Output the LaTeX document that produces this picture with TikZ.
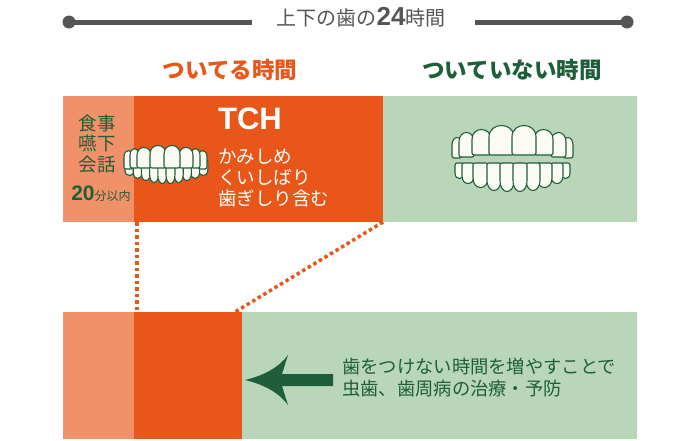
\documentclass[tikz,border=0pt]{standalone}
\usepackage{fontspec}
\setmainfont{Noto Sans CJK JP}
\newfontfamily\latinfont{Liberation Sans}
\usepackage{xcolor}
\usepackage{tikz}
\usetikzlibrary{positioning}

\definecolor{mealorange}{HTML}{F0916A}
\definecolor{tchorange}{HTML}{E8561A}
\definecolor{restgreen}{HTML}{B9D6B9}
\definecolor{darkgreen}{HTML}{1E5E3A}
\definecolor{titlegray}{HTML}{555555}
\definecolor{toothwhite}{HTML}{FBFBF4}

\tikzset{
  jtext/.style={inner sep=0pt, text height=0.88em, text depth=0.12em},
  ltext/.style={inner sep=0pt, text height=0.72em, text depth=0pt},
  tooth/.style={draw=darkgreen, fill=toothwhite, line width=1.1pt, line join=round, rounded corners=2pt},
  zoomline/.style={tchorange, line width=3.5pt, dash pattern=on 3.5pt off 3pt},
  titleline/.style={titlegray, line width=5pt},
}

\begin{document}
\begin{tikzpicture}[x=1pt, y=-1pt]
\useasboundingbox (0,0) rectangle (700,440);
\fill[white] (0,0) rectangle (700,440);
% title
\draw[titleline] (69,22) -- (252,22);
\draw[titleline] (475,22) -- (627,22);
\fill[titlegray] (69,22) circle (6.5);
\fill[titlegray] (627,22) circle (6.5);
\node[jtext, text=titlegray, font=\fontsize{20}{24}\selectfont] (title) at (361,22)
  {上下の歯の{\latinfont\bfseries\fontsize{26}{26}\selectfont 24}時間};
\node[jtext, text=tchorange, font=\bfseries\fontsize{22.5}{26}\selectfont] (touchlabel) at (230,75) {ついてる時間};
\node[jtext, text=darkgreen, font=\bfseries\fontsize{22.5}{26}\selectfont] (restlabel) at (512,75) {ついていない時間};
% upper bar
\fill[mealorange] (63,96) rectangle (134,222);
\fill[tchorange] (134,96) rectangle (383,222);
\fill[restgreen] (383,96) rectangle (637,222);
% lower bar
\fill[mealorange] (63,312) rectangle (134,439);
\fill[tchorange] (134,312) rectangle (242,439);
\fill[restgreen] (242,312) rectangle (637,439);
% dotted lines
\coordinate (tchstart) at (137,222);
\coordinate (tchstartlow) at (137,312);
\coordinate (tchend) at (383,222);
\coordinate (tchendlow) at (235,312);
\draw[zoomline] (tchstart) -- (tchstartlow);
\draw[zoomline] (tchend) -- (tchendlow);
% meal column
\node[jtext, text=darkgreen, font=\fontsize{18.5}{22}\selectfont] (meal) at (97,127) {食事};
\node[jtext, text=darkgreen, font=\fontsize{18.5}{22}\selectfont] (swallow) at (97,147) {嚥下};
\node[jtext, text=darkgreen, font=\fontsize{18.5}{22}\selectfont] (talk) at (97,168) {会話};
\node[jtext, text=darkgreen, font=\fontsize{12}{14}\selectfont] (mealtime) at (101,197)
  {{\latinfont\bfseries\fontsize{21}{21}\selectfont 20}分以内};
% TCH
\node[ltext, text=white, font=\latinfont\bfseries\fontsize{31}{31}\selectfont] (tch) at (250,126) {TCH};
\node[jtext, text=white, anchor=west, font=\fontsize{18.5}{22}\selectfont] (clench) at (218,160) {かみしめ};
\node[jtext, text=white, anchor=west, font=\fontsize{18.5}{22}\selectfont] (bite) at (218,181) {くいしばり};
\node[jtext, text=white, anchor=west, font=\fontsize{18.5}{22}\selectfont] (grind) at (218,202) {歯ぎしり含む};
% teeth touching
\foreach \l/\r/\t/\b in {125/134/160/175, 198.8/207.8/160/175, 133.2/142.2/160/178, 190.6/199.6/160/178,
  141.4/150.4/160/180, 182.4/191.4/160/180, 149.6/158.6/160/182, 174.2/183.2/160/182,
  157.8/166.8/160/183, 166/175/160/183}
  \draw[tooth] (\l,\t) -- (\l,{\b-0.45*(\b-\t)}) .. controls (\l,{\b+0.15*(\b-\t)}) and (\r,{\b+0.15*(\b-\t)}) .. (\r,{\b-0.45*(\b-\t)}) -- (\r,\t) -- cycle;
\foreach \l/\r/\t/\b in {124/133/151/169, 198/207/151/169, 130/139/149/168, 191/200/149/168,
  137/151/148/168, 179/193/148/168, 150/166/146/168, 164/180/146/168}
  \draw[tooth] (\l,\b) -- (\l,{\t+0.45*(\b-\t)}) .. controls (\l,{\t-0.15*(\b-\t)}) and (\r,{\t-0.15*(\b-\t)}) .. (\r,{\t+0.45*(\b-\t)}) -- (\r,\b) -- cycle;
% teeth apart
\foreach \l/\r/\t/\b in {452/462/138/158, 563/573/138/158, 459/474/133/157, 551/566/133/157,
  472/491/130/155, 534/553/130/155, 489/514/126/155, 512/536/126/155}
  \draw[tooth] (\l,\b) -- (\l,{\t+0.45*(\b-\t)}) .. controls (\l,{\t-0.15*(\b-\t)}) and (\r,{\t-0.15*(\b-\t)}) .. (\r,{\t+0.45*(\b-\t)}) -- (\r,\b) -- cycle;
\foreach \l/\r/\t/\b in {455/464/163/178, 561/570/163/178, 462/474/163/183, 551/563/163/183,
  473/488/163/187, 537/552/163/187, 487/501/163/190, 526/540/163/190,
  500/514/163/191, 513/527/163/191}
  \draw[tooth] (\l,\t) -- (\l,{\b-0.45*(\b-\t)}) .. controls (\l,{\b+0.15*(\b-\t)}) and (\r,{\b+0.15*(\b-\t)}) .. (\r,{\b-0.45*(\b-\t)}) -- (\r,\t) -- cycle;
% arrow
\fill[darkgreen] (245,380) .. controls (266,375) and (280,366) .. (288,355) -- (282,374) -- (333,374)
  -- (333,386) -- (282,386) -- (288,405) .. controls (280,394) and (266,385) .. (245,380) -- cycle;
\node[jtext, text=darkgreen, anchor=west, font=\fontsize{18.3}{22}\selectfont] (morerest) at (342,370) {歯をつけない時間を増やすことで};
\node[jtext, text=darkgreen, anchor=west, font=\fontsize{18.3}{22}\selectfont] (benefit) at (342,392) {虫歯、歯周病の治療・予防};
\end{tikzpicture}
\end{document}
